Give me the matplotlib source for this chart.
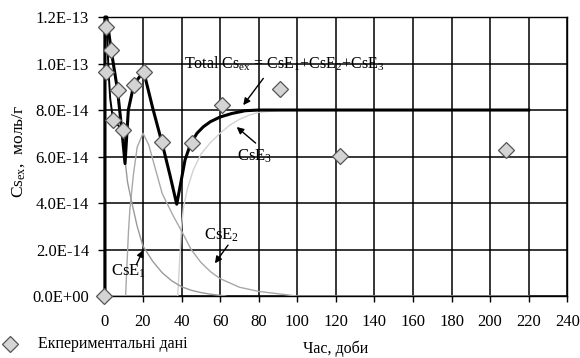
import matplotlib
matplotlib.use("Agg")
import matplotlib.pyplot as plt
import numpy as np

plt.rcParams["font.family"] = ["Liberation Serif", "DejaVu Serif"]
plt.rcParams["mathtext.fontset"] = "custom"
plt.rcParams["mathtext.rm"] = "Liberation Serif"
plt.rcParams["mathtext.it"] = "Liberation Serif:italic"

# values in units of 1e-14 mol/g
exp_t = [0, 1.0, 1.0, 3.5, 4.5, 6.8, 9.8, 15.2, 20.4, 30.0, 45.4, 60.8, 91.1, 122.2, 208.4]
exp_c = [0.0, 11.57, 9.65, 10.58, 7.55, 8.86, 7.14, 9.07, 9.65, 6.62, 6.57, 8.2, 8.9, 6.02, 6.3]

total_t = [0.3, 0.3, 1.2, 3.5, 6.8, 9.2, 10.7, 12.4, 15.2, 17.5, 20.4, 25.0, 30.0, 34.0,
           37.5, 39.0, 41.8, 44.7, 48.0, 51.3, 55.0, 60.0, 66.0, 73.0, 80.0, 220.0]
total_c = [0.0, 12.0, 12.0, 10.58, 8.86, 7.0, 5.7, 8.0, 9.07, 9.35, 9.65, 8.1, 6.55, 5.2,
           3.95, 4.6, 5.85, 6.55, 7.0, 7.28, 7.5, 7.7, 7.85, 7.97, 8.0, 8.0]

early_t = [1.0, 2.2, 3.0, 4.5, 7.0, 9.8, 10.7]
early_c = [12.0, 9.6, 8.5, 7.55, 7.35, 7.1, 5.7]

e1_t = [10.7, 12.0, 14.0, 17.0, 20.0, 25.0, 30.0, 35.0, 40.0, 45.0, 50.0, 55.0, 63.0]
e1_c = [5.85, 4.9, 4.1, 3.0, 2.15, 1.5, 1.0, 0.65, 0.4, 0.25, 0.15, 0.08, 0.0]

e2_t = [0.0, 11.0, 11.5, 12.5, 13.2, 15.0, 17.0, 20.0, 23.0, 26.0, 28.0, 30.0, 33.0, 36.0,
        40.0, 45.0, 50.0, 55.0, 60.0, 70.0, 80.0, 90.0, 100.0, 220.0]
e2_c = [0.0, 0.0, 1.0, 2.8, 3.7, 5.2, 6.4, 7.0, 6.5, 5.6, 5.0, 4.4, 3.9, 3.4,
        2.8, 2.0, 1.45, 1.05, 0.75, 0.38, 0.2, 0.1, 0.0, 0.0]

e3_t = [0.0, 38.0, 39.0, 40.0, 41.0, 43.0, 46.0, 50.0, 55.0, 60.0, 65.0, 70.0, 75.0, 80.0,
        90.0, 100.0, 220.0]
e3_c = [0.0, 0.0, 1.5, 3.0, 3.8, 4.6, 5.4, 6.1, 6.6, 7.0, 7.35, 7.6, 7.78, 7.9,
        7.98, 8.0, 8.0]

x_ticks = list(range(0, 241, 20))
y_ticks = [0, 2, 4, 6, 8, 10, 12]
y_tick_labels = ["0.0E+00", "2.0E-14", "4.0E-14", "6.0E-14", "8.0E-14", "1.0E-13", "1.2E-13"]

fig = plt.figure(figsize=(5.8, 3.58), dpi=100)
ax = fig.add_axes([0.18, 0.173, 0.798, 0.7795])
ax.set_xlim(0, 240)
ax.set_ylim(0, 12)
ax.set_xticks(x_ticks)
ax.set_yticks(y_ticks)
ax.set_yticklabels(y_tick_labels)
ax.tick_params(axis="both", labelsize=12, length=4, width=1, color="black")
ax.tick_params(axis="x", pad=9)
ax.tick_params(axis="y", pad=7)
ax.grid(True, color="black", linewidth=1.1)
ax.set_axisbelow(True)
for s in ax.spines.values():
    s.set_linewidth(1.0)
    s.set_color("black")

ax.plot(e3_t, e3_c, color="#d2d2d2", linewidth=1.0, zorder=3)
ax.plot(e2_t, e2_c, color="#a8a8a8", linewidth=1.0, zorder=3)
ax.plot(e1_t, e1_c, color="#9a9a9a", linewidth=1.0, zorder=3)
ax.plot(early_t, early_c, color="black", linewidth=1.4, zorder=4)
ax.plot(total_t, total_c, color="black", linewidth=2.2, zorder=5, clip_on=False)
ax.plot(exp_t, exp_c, linestyle="none", marker="D", markersize=7.8,
        markerfacecolor="#d4d4d4", markeredgecolor="#555555", markeredgewidth=0.9,
        zorder=6, clip_on=False)

ax.set_ylabel(r"Cs$_{\mathrm{ex}}$,  моль/г", fontsize=12.5)
ax.yaxis.set_label_coords(-0.168, 0.52)
ax.set_xlabel("Час, доби", fontsize=11.5)
ax.xaxis.set_label_coords(0.5, -0.158)

arrow = dict(arrowstyle="-|>", color="black", linewidth=1.0, mutation_scale=10,
             shrinkA=0, shrinkB=0)
ax.text(41.5, 10.0, r"Total Cs$_{\mathrm{ex}}$ = CsE$_1$+CsE$_2$+CsE$_3$",
        fontsize=11.5, ha="left", va="center", zorder=7)
ax.annotate("", xy=(72.0, 8.21), xytext=(82.4, 9.36), arrowprops=arrow, zorder=7)
ax.text(69.0, 6.0, r"CsE$_3$", fontsize=12, ha="left", va="center", zorder=7)
ax.annotate("", xy=(68.6, 7.27), xytext=(78.4, 6.58), arrowprops=arrow, zorder=7)
ax.text(51.5, 2.6, r"CsE$_2$", fontsize=12, ha="left", va="center", zorder=7)
ax.annotate("", xy=(57.3, 1.41), xytext=(64.1, 2.19), arrowprops=arrow, zorder=7)
ax.text(3.5, 1.05, r"CsE$_1$", fontsize=12, ha="left", va="center", zorder=7)
ax.annotate("", xy=(20.1, 1.98), xytext=(16.6, 1.35), arrowprops=arrow, zorder=7)

# legend entry for the measured points
ax.plot([0.018], [0.04], transform=fig.transFigure, linestyle="none", marker="D",
        markersize=7.8, markerfacecolor="#d4d4d4", markeredgecolor="#555555",
        markeredgewidth=0.9, clip_on=False)
fig.text(0.065, 0.04, "Екпериментальні дані", fontsize=11.5, ha="left", va="center")

fig.savefig("out.png", dpi=100)
